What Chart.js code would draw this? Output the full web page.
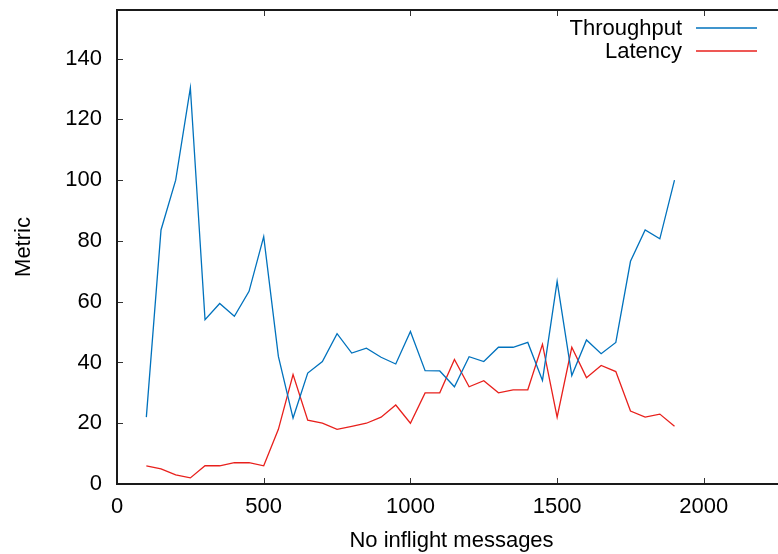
<!DOCTYPE html>
<html>
<head>
<meta charset="utf-8">
<script src="https://cdn.jsdelivr.net/npm/chart.js@4.4.1/dist/chart.umd.min.js"></script>
<style>
  html, body { margin: 0; padding: 0; background: #fff; overflow: hidden; }
  #wrap { width: 778px; height: 554px; overflow: hidden; position: relative; }
  #c { position: absolute; left: 0; top: 0; }
</style>
</head>
<body>
<div id="wrap"><canvas id="c" width="800" height="554"></canvas></div>
<script>
// Number of in-flight messages (x) and the measured metrics
const inflight = [100, 150, 200, 250, 300, 350, 400, 450, 500, 550, 600, 650, 700, 750, 800, 850, 900, 950, 1000,
  1050, 1100, 1150, 1200, 1250, 1300, 1350, 1400, 1450, 1500, 1550, 1600, 1650, 1700, 1750, 1800, 1850, 1900];
const throughput = [22, 83.6, 100, 130.4, 54.1, 59.4, 55.2, 63.4, 81.4, 42, 21.7, 36.5, 40.3, 49.5, 43.1, 44.7, 41.7, 39.5, 50.2,
  37.3, 37.2, 32, 41.9, 40.3, 45, 45, 46.6, 34.1, 66.7, 35.7, 47.4, 42.9, 46.6, 73.3, 83.6, 80.7, 100];
const latency = [6, 5, 3, 2, 6, 6, 7, 7, 6, 18, 36, 21, 20, 18, 19, 20, 22, 26, 20,
  30, 30, 41, 32, 34, 30, 31, 31, 46, 22, 45, 35, 39, 37, 24, 22, 23, 19];
const xTicks = [0, 500, 1000, 1500, 2000];
const yTicks = [0, 20, 40, 60, 80, 100, 120, 140];
const xRange = [0, 2280];
const yRange = [0, 156];

const FONT = '"Liberation Sans", Arial, Helvetica, sans-serif';
const BLUE = '#0072bd';
const RED = '#e8201c';

const toPoints = (ys) => inflight.map((x, i) => ({ x, y: ys[i] }));

// Frame with inward tick marks (top/bottom and left/right mirrored) plus key
const framePlugin = {
  id: 'frame',
  afterDraw(chart) {
    const { ctx, chartArea: a, scales } = chart;
    const xs = scales.x, ys = scales.y;
    ctx.save();
    ctx.strokeStyle = '#333';
    ctx.lineWidth = 1;
    ctx.beginPath();
    xTicks.forEach(v => {
      const px = Math.round(xs.getPixelForValue(v)) + 0.5;
      ctx.moveTo(px, a.bottom); ctx.lineTo(px, a.bottom - 6);
      ctx.moveTo(px, a.top); ctx.lineTo(px, a.top + 6);
    });
    yTicks.forEach(v => {
      const py = Math.round(ys.getPixelForValue(v)) + 0.5;
      ctx.moveTo(a.left, py); ctx.lineTo(a.left + 6, py);
      ctx.moveTo(a.right, py); ctx.lineTo(a.right - 6, py);
    });
    ctx.stroke();

    ctx.strokeStyle = '#1a1a1a';
    ctx.lineWidth = 2;
    ctx.strokeRect(a.left, a.top, a.right - a.left, a.bottom - a.top);

    // key, top right inside the plot
    ctx.font = '22px ' + FONT;
    ctx.textAlign = 'right';
    ctx.textBaseline = 'middle';
    chart.data.datasets.forEach((ds, i) => {
      const y = a.top + 18 + i * 23;
      ctx.fillStyle = '#000';
      ctx.fillText(ds.label, a.right - 104, y + 1);
      ctx.strokeStyle = ds.borderColor;
      ctx.lineWidth = 1.4;
      ctx.beginPath();
      ctx.moveTo(a.right - 90, y);
      ctx.lineTo(a.right - 29, y);
      ctx.stroke();
    });
    ctx.restore();
  }
};

new Chart(document.getElementById('c'), {
  type: 'line',
  data: {
    datasets: [
      { label: 'Throughput', data: toPoints(throughput), borderColor: BLUE, borderWidth: 1.3,
        pointRadius: 0, tension: 0, fill: false },
      { label: 'Latency', data: toPoints(latency), borderColor: RED, borderWidth: 1.3,
        pointRadius: 0, tension: 0, fill: false }
    ]
  },
  options: {
    responsive: false,
    devicePixelRatio: 1,
    animation: false,
    layout: { padding: { top: 10, right: 14, left: 0, bottom: 0 } },
    plugins: { legend: { display: false }, tooltip: { enabled: false } },
    scales: {
      x: {
        type: 'linear', min: xRange[0], max: xRange[1],
        afterBuildTicks: s => { s.ticks = xTicks.map(v => ({ value: v })); },
        afterFit: s => { s.height = 70; s.paddingLeft = 0; s.paddingRight = 0; },
        grid: { display: false, drawTicks: false },
        border: { display: false },
        ticks: { color: '#000', font: { family: FONT, size: 22 }, padding: 10, maxRotation: 0,
          callback: v => String(v) },
        title: { display: true, text: 'No inflight messages', color: '#000',
          font: { family: FONT, size: 22 }, padding: { top: 0, bottom: 0 } }
      },
      y: {
        type: 'linear', min: yRange[0], max: yRange[1],
        afterBuildTicks: s => { s.ticks = yTicks.map(v => ({ value: v })); },
        afterFit: s => { s.width = 117; s.paddingTop = 0; s.paddingBottom = 0; },
        grid: { display: false, drawTicks: false },
        border: { display: false },
        ticks: { color: '#000', font: { family: FONT, size: 22 }, padding: 15,
          callback: v => String(v) },
        title: { display: true, text: 'Metric', color: '#000',
          font: { family: FONT, size: 22 }, padding: { top: 11, bottom: 0 } }
      }
    }
  },
  plugins: [framePlugin]
});
</script>
</body>
</html>
